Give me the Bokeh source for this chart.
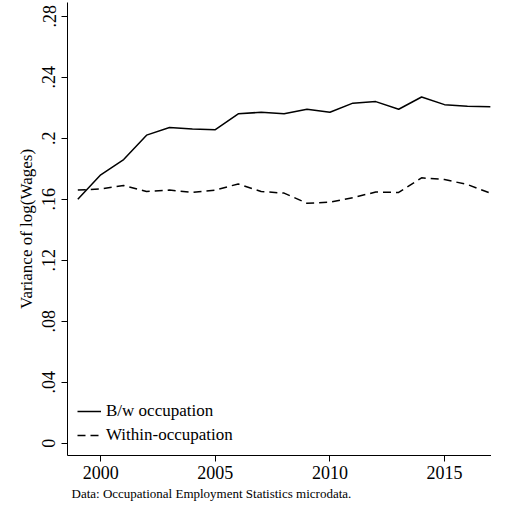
from bokeh.plotting import figure
from bokeh.embed import file_html
from bokeh.resources import INLINE
from bokeh.models import Range1d, FixedTicker, Title, Legend, LegendItem

years = list(range(1999, 2018))
between = [0.160, 0.176, 0.186, 0.202, 0.207, 0.206, 0.2056, 0.216, 0.217, 0.216,
           0.219, 0.217, 0.223, 0.224, 0.219, 0.227, 0.222, 0.221, 0.2207]
within = [0.166, 0.1667, 0.169, 0.165, 0.166, 0.1644, 0.166, 0.170, 0.165, 0.164,
          0.1573, 0.158, 0.161, 0.1647, 0.1644, 0.174, 0.1729, 0.1696, 0.164]
yticks = [0, 0.04, 0.08, 0.12, 0.16, 0.2, 0.24, 0.28]
ylabels = ["0", ".04", ".08", ".12", ".16", ".2", ".24", ".28"]
xticks = [2000, 2005, 2010, 2015]

F = "Liberation Serif"
p = figure(width=491, height=502, output_backend="svg", toolbar_location=None,
           x_range=Range1d(1998.55, 2017.05), y_range=Range1d(-0.0081, 0.289),
           min_border_left=67, min_border_right=0, min_border_top=2, min_border_bottom=10)
p.outline_line_color = None
p.xgrid.visible = False
p.ygrid.visible = False

r1 = p.line(years, between, line_color="black", line_width=1.5)
r2 = p.line(years, within, line_color="black", line_width=1.5, line_dash="8 5")

p.yaxis.ticker = FixedTicker(ticks=yticks)
p.yaxis.major_label_overrides = {t: l for t, l in zip(yticks, ylabels)}
p.yaxis.major_label_orientation = "vertical"
p.xaxis.ticker = FixedTicker(ticks=xticks)
for ax in (p.xaxis[0], p.yaxis[0]):
    ax.major_label_text_font = F
    ax.major_label_text_font_size = "18px"
    ax.major_label_text_color = "black"
    ax.axis_line_color = "black"
    ax.major_tick_line_color = "black"
    ax.major_tick_out = 6
    ax.major_tick_in = 0
    ax.minor_tick_line_color = None
    ax.axis_label_text_font = F
    ax.axis_label_text_font_style = "normal"
    ax.axis_label_text_color = "black"
p.yaxis.axis_label = "Variance of log(Wages)"
p.yaxis.axis_label_text_font_size = "17px"
p.yaxis.axis_label_standoff = 4
p.yaxis.major_label_standoff = 6
p.xaxis.major_label_standoff = 4

leg = Legend(items=[LegendItem(label="B/w occupation", renderers=[r1]),
                    LegendItem(label="Within-occupation", renderers=[r2])],
             location="bottom_left", border_line_color=None, background_fill_alpha=0,
             label_text_font=F, label_text_font_size="17px", label_text_color="black",
             glyph_width=24, spacing=4, margin=10, padding=4)
p.add_layout(leg)

p.add_layout(Title(text="Data: Occupational Employment Statistics microdata.",
                   text_font=F, text_font_size="13px", text_font_style="normal",
                   text_color="black", align="left", offset=4, standoff=4), "below")

open("out.html", "w").write(file_html(p, INLINE))
